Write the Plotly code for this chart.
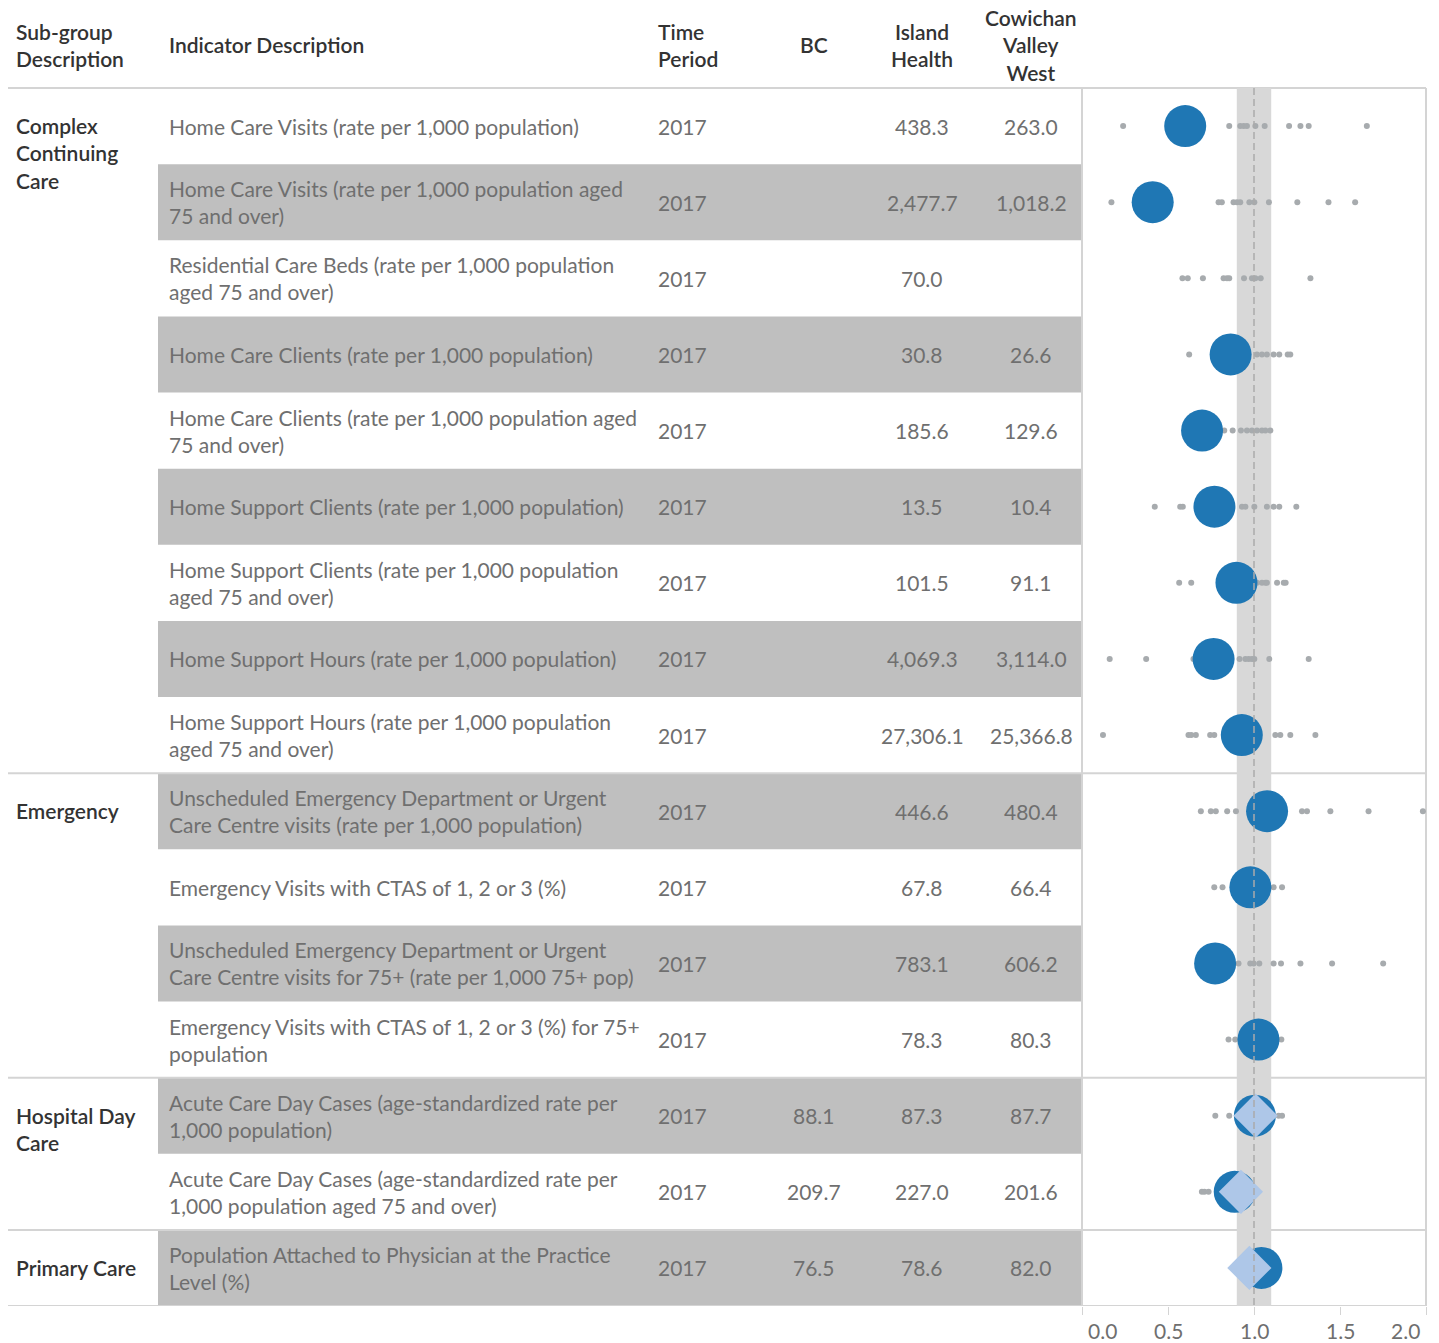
"""Indicator comparison table with ratio dot plot — Cowichan Valley West."""
import plotly.graph_objects as go

# ─── Data ─────────────────────────────────────────────────────────────────────
SUBGROUPS = ["Complex<br>Continuing<br>Care", "Emergency", "Hospital Day<br>Care", "Primary Care"]
GROUP_SIZES = [9, 4, 2, 1]

INDICATORS = [
    "Home Care Visits (rate per 1,000 population)",
    "Home Care Visits (rate per 1,000 population aged<br>75 and over)",
    "Residential Care Beds (rate per 1,000 population<br>aged 75 and over)",
    "Home Care Clients (rate per 1,000 population)",
    "Home Care Clients (rate per 1,000 population aged<br>75 and over)",
    "Home Support Clients (rate per 1,000 population)",
    "Home Support Clients (rate per 1,000 population<br>aged 75 and over)",
    "Home Support Hours (rate per 1,000 population)",
    "Home Support Hours (rate per 1,000 population<br>aged 75 and over)",
    "Unscheduled Emergency Department or Urgent<br>Care Centre visits (rate per 1,000 population)",
    "Emergency Visits with CTAS of 1, 2 or 3 (%)",
    "Unscheduled Emergency Department or Urgent<br>Care Centre visits for 75+ (rate per 1,000 75+ pop)",
    "Emergency Visits with CTAS of 1, 2 or 3 (%) for 75+<br>population",
    "Acute Care Day Cases (age-standardized rate per<br>1,000 population)",
    "Acute Care Day Cases (age-standardized rate per<br>1,000 population aged 75 and over)",
    "Population Attached to Physician at the Practice<br>Level (%)",
]
TIME_PERIOD = ["2017"] * 16
BC = ["", "", "", "", "", "", "", "", "", "", "", "", "", "88.1", "209.7", "76.5"]
ISLAND_HEALTH = ["438.3", "2,477.7", "70.0", "30.8", "185.6", "13.5", "101.5", "4,069.3",
                 "27,306.1", "446.6", "67.8", "783.1", "78.3", "87.3", "227.0", "78.6"]
COWICHAN = ["263.0", "1,018.2", "", "26.6", "129.6", "10.4", "91.1", "3,114.0",
            "25,366.8", "480.4", "66.4", "606.2", "80.3", "87.7", "201.6", "82.0"]

# ratio to Island Health
CVW_RATIO = [0.600, 0.411, None, 0.864, 0.698, 0.770, 0.898, 0.765, 0.929,
             1.076, 0.979, 0.774, 1.026, 1.005, 0.888, 1.043]
BC_RATIO = [None] * 13 + [1.009, 0.924, 0.973]
OTHER_LHA = [
    [0.239, 0.856, 0.920, 0.940, 0.959, 1.008, 1.062, 1.204, 1.270, 1.318, 1.656],
    [0.171, 0.794, 0.813, 0.881, 0.901, 0.920, 0.973, 1.002, 1.087, 1.252, 1.433, 1.588],
    [0.584, 0.615, 0.703, 0.823, 0.843, 0.856, 0.942, 0.988, 1.008, 1.039, 1.328],
    [0.623, 0.900, 0.960, 1.017, 1.046, 1.075, 1.114, 1.147, 1.196, 1.211],
    [0.827, 0.876, 0.924, 0.959, 0.988, 1.017, 1.046, 1.066, 1.095],
    [0.423, 0.571, 0.586, 0.930, 0.950, 1.002, 1.075, 1.114, 1.147, 1.246],
    [0.565, 0.635, 0.980, 1.017, 1.046, 1.066, 1.075, 1.134, 1.173, 1.184],
    [0.161, 0.373, 0.648, 0.916, 0.950, 0.969, 0.988, 1.002, 1.089, 1.318],
    [0.122, 0.619, 0.635, 0.662, 0.745, 0.769, 1.124, 1.153, 1.211, 1.357],
    [0.691, 0.749, 0.778, 0.844, 0.895, 1.279, 1.308, 1.444, 1.666, 1.982],
    [0.769, 0.817, 1.060, 1.114, 1.163],
    [0.910, 0.978, 0.998, 1.031, 1.114, 1.157, 1.270, 1.454, 1.751],
    [0.852, 0.891, 1.159],
    [0.775, 0.856, 1.143, 1.163],
    [0.697, 0.712, 0.736],
    [],
]
X_TICKS = [0.0, 0.5, 1.0, 1.5, 2.0]
REF, BAND_LO, BAND_HI = 1.0, 0.9, 1.1

# ─── Style ────────────────────────────────────────────────────────────────────
PAGE_MARGIN = 8                    # default body margin of the html page
W, H = 1439 - PAGE_MARGIN, 1343 - PAGE_MARGIN
FONT = "Lato"
DARK = "#333333"
TEXT = "#6f6f6f"
SHADE = "#bfbfbf"
RULE = "#d4d4d4"
BLUE = "#1f77b4"
LIGHT_BLUE = "#aec7e8"
DOT_GREY = "#a7abae"
FS = 21

# column x positions (pixel units of the table axis)
X_SUB, X_IND, X_TIME, X_BC, X_IH, X_CVW = 6, 159, 648, 806, 914, 1023
SHADE_X0, SHADE_X1 = 150, 1073
RULE_X0 = 0
PANEL_X0, PANEL_X1 = 1074, 1418
ROW_PX = 76.125
HEADER_Y = -1.065
TOP_Y = -0.5 - (88 - PAGE_MARGIN) / ROW_PX
PLOT_BOTTOM = 1306 - PAGE_MARGIN
N = len(INDICATORS)

fig = go.Figure()

rows = list(range(N))

# ── other local health areas (grey dots) ───────────────────────────────────
gx, gy = [], []
for i, vals in enumerate(OTHER_LHA):
    gx += vals
    gy += [i] * len(vals)
fig.add_trace(go.Scatter(
    x=gx, y=gy, xaxis="x2", yaxis="y", mode="markers",
    marker=dict(size=6, color=DOT_GREY), hoverinfo="skip", showlegend=False,
))

# ── Cowichan Valley West (big blue circles) ────────────────────────────────
fig.add_trace(go.Scatter(
    x=CVW_RATIO, y=rows, xaxis="x2", yaxis="y", mode="markers",
    marker=dict(size=42, color=BLUE, line=dict(width=0)),
    showlegend=False,
))

# ── BC (light blue diamonds) ───────────────────────────────────────────────
fig.add_trace(go.Scatter(
    x=BC_RATIO, y=rows, xaxis="x2", yaxis="y", mode="markers",
    marker=dict(size=34, symbol="diamond", color=LIGHT_BLUE, line=dict(width=0)),
    showlegend=False,
))

shapes = []
# alternating row shading
for i in rows:
    if i % 2 == 1:
        shapes.append(dict(type="rect", xref="x", yref="y", layer="below",
                           x0=SHADE_X0, x1=SHADE_X1, y0=i - 0.5, y1=i + 0.5,
                           fillcolor=SHADE, line=dict(width=0)))
# reference band in the dot panel
shapes.append(dict(type="rect", xref="x2", yref="y", layer="below",
                   x0=BAND_LO, x1=BAND_HI, y0=-0.5, y1=N - 0.5,
                   fillcolor="#d8d8d8", line=dict(width=0)))
# group separators
bounds = [-0.5]
for s in GROUP_SIZES:
    bounds.append(bounds[-1] + s)
for b in bounds:
    shapes.append(dict(type="line", xref="x", yref="y", layer="below",
                       x0=RULE_X0, x1=PANEL_X1, y0=b, y1=b,
                       line=dict(color=RULE, width=2)))
# panel frame
for px in (PANEL_X0, PANEL_X1):
    shapes.append(dict(type="line", xref="x", yref="y", layer="below",
                       x0=px, x1=px, y0=-0.5, y1=N - 0.5,
                       line=dict(color=RULE, width=2)))
# reference line
shapes.append(dict(type="line", xref="x2", yref="y", layer="above",
                   x0=REF, x1=REF, y0=-0.5, y1=N - 0.5,
                   line=dict(color="#ababab", width=1.5, dash="7px,4px")))

ann = []


def txt(x, y, s, anchor="left", color=TEXT, weight=400, **kw):
    ann.append(dict(x=x, y=y, xref="x", yref="y", text=s, showarrow=False,
                    xanchor=anchor, yanchor=kw.pop("yanchor", "middle"),
                    align=anchor if anchor != "center" else "center",
                    font=dict(family=FONT, size=FS, color=color, weight=weight), **kw))


# header
txt(X_SUB, HEADER_Y, "Sub-group<br>Description", color=DARK, weight=600)
txt(X_IND, HEADER_Y, "Indicator Description", color=DARK, weight=600)
txt(X_TIME, HEADER_Y, "Time<br>Period", color=DARK, weight=600)
txt(X_BC, HEADER_Y, "BC", anchor="center", color=DARK, weight=600)
txt(X_IH, HEADER_Y, "Island<br>Health", anchor="center", color=DARK, weight=600)
txt(X_CVW, HEADER_Y, "Cowichan<br>Valley<br>West", anchor="center", color=DARK, weight=600)

# sub-group labels (first line aligned with the first row of the group)
start = 0
for name, size in zip(SUBGROUPS, GROUP_SIZES):
    txt(X_SUB, start, name, color=DARK, weight=600, yanchor="top", yshift=15)
    start += size

# body cells
for i in rows:
    txt(X_IND, i, INDICATORS[i])
    txt(X_TIME, i, TIME_PERIOD[i])
    txt(X_BC, i, BC[i], anchor="center")
    txt(X_IH, i, ISLAND_HEALTH[i], anchor="center")
    txt(X_CVW, i, COWICHAN[i], anchor="center")

# x tick labels of the dot panel (edge labels kept inside the panel)
for t in X_TICKS:
    anchor = "left" if t == X_TICKS[0] else "right" if t == X_TICKS[-1] else "center"
    shift = 4 if anchor == "left" else -4 if anchor == "right" else 0
    ann.append(dict(x=t, y=0, xref="x2", yref="paper", text=f"{t:.1f}",
                    showarrow=False, xanchor=anchor, yanchor="top", xshift=shift, yshift=-10,
                    font=dict(family=FONT, size=FS, color=TEXT)))

fig.update_layout(
    width=W, height=H,
    margin=dict(l=0, r=0, t=0, b=H - PLOT_BOTTOM),
    paper_bgcolor="white", plot_bgcolor="rgba(0,0,0,0)",
    xaxis=dict(domain=[0, 1], range=[0, W], visible=False, fixedrange=True),
    xaxis2=dict(domain=[PANEL_X0 / W, PANEL_X1 / W], range=[X_TICKS[0], X_TICKS[-1]],
                anchor="y", showgrid=False, zeroline=False, showline=False,
                tickvals=X_TICKS, showticklabels=False, ticks="outside",
                ticklen=8, tickwidth=1, tickcolor=RULE),
    yaxis=dict(domain=[0, 1], range=[N - 0.5, TOP_Y], visible=False),
    shapes=shapes, annotations=ann,
    font=dict(family=FONT, color=TEXT),
)

fig.write_html("out.html")
